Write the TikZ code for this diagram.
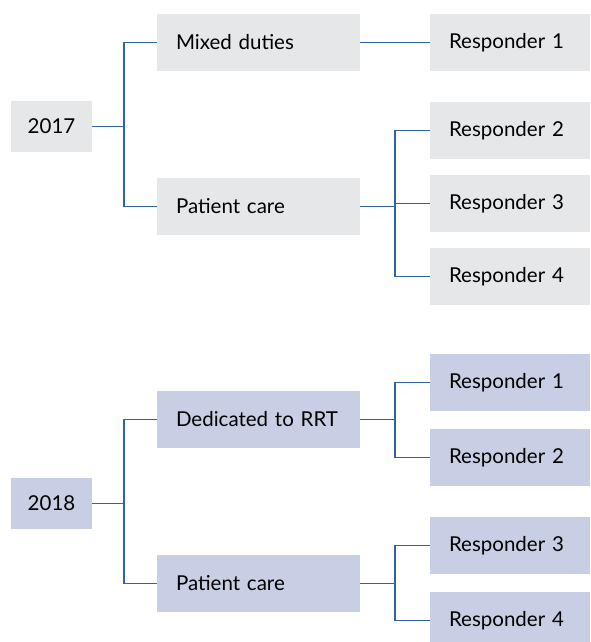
\documentclass[tikz,border=0pt]{standalone}
\usepackage{fontspec}
\setmainfont{Lato}
\usetikzlibrary{positioning}
\definecolor{boxgray}{HTML}{E6E7E8}
\definecolor{boxblue}{HTML}{C8CEE3}
\definecolor{linkblue}{HTML}{2F62A6}

\begin{document}
\begin{tikzpicture}[
  x=1pt, y=-1pt,
  yearbox/.style={
    fill=#1, minimum width=81pt, minimum height=51pt,
    inner sep=0pt, font=\fontsize{20.5}{24}\selectfont
  },
  rolebox/.style={
    fill=#1, text width=165pt, align=left, minimum height=57pt,
    inner xsep=19pt, inner ysep=0pt, font=\fontsize{20.5}{24}\selectfont
  },
  respbox/.style={
    fill=#1, text width=122pt, align=left, minimum height=57pt,
    inner xsep=19pt, inner ysep=0pt, font=\fontsize{20.5}{24}\selectfont
  },
  link/.style={draw=linkblue, line width=1.6pt}
]
  \useasboundingbox (0,0) rectangle (590,642);

  % 2017
  \node[yearbox=boxgray] (y17) at (51.5,126.5) {2017};
  \node[rolebox=boxgray] (mix) at (258.5,42.5)  {Mixed duties};
  \node[rolebox=boxgray] (pc17) at (258.5,206.5) {Patient care};
  \foreach \i/\y in {1/42.5,2/130.5,3/203.5,4/276.5}
    \node[respbox=boxgray] (a\i) at (510,\y) {Responder \i};

  \draw[link] (y17.east) -- ++(32,0) |- (mix.west);
  \draw[link] (y17.east) -- ++(32,0) |- (pc17.west);
  \draw[link] (mix.east) -- (a1.west);
  \foreach \i in {2,3,4}
    \draw[link] (pc17.east) -- ++(35,0) |- (a\i.west);

  % 2018
  \node[yearbox=boxblue] (y18) at (51.5,503.5) {2018};
  \node[rolebox=boxblue] (ded) at (258.5,419.5) {Dedicated to RRT};
  \node[rolebox=boxblue] (pc18) at (258.5,583.5) {Patient care};
  \foreach \i/\y in {1/382.5,2/457.5,3/545.5,4/620.5}
    \node[respbox=boxblue] (b\i) at (510,\y) {Responder \i};

  \draw[link] (y18.east) -- ++(32,0) |- (ded.west);
  \draw[link] (y18.east) -- ++(32,0) |- (pc18.west);
  \foreach \i in {1,2}
    \draw[link] (ded.east) -- ++(35,0) |- (b\i.west);
  \foreach \i in {3,4}
    \draw[link] (pc18.east) -- ++(35,0) |- (b\i.west);
\end{tikzpicture}
\end{document}
